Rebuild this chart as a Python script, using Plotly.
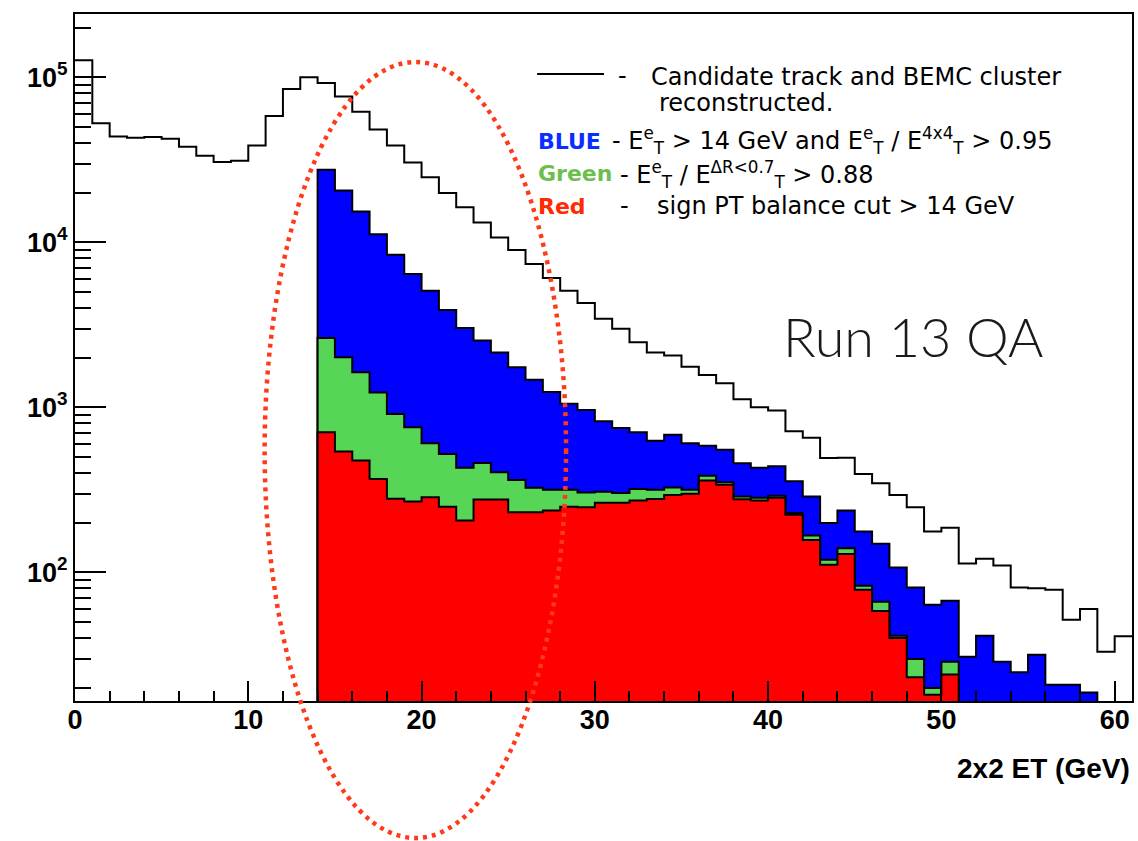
import math
import plotly.graph_objects as go

# ---------------- data (1 GeV bins) ----------------
all_start = 0
all_counts = [127000, 52600, 43800, 43100, 43500, 42400, 38000, 33500, 30700, 31200,
              38600, 58300, 85100, 100000, 92500, 76400, 61900, 48200, 38600, 30500,
              24800, 19900, 16300, 13200, 10700, 8990, 7390, 6080, 5090, 4290,
              3440, 2990, 2480, 2150, 2060, 1760, 1570, 1400, 1120, 1000,
              955, 716, 653, 493, 495, 395, 347, 294, 248, 177,
              186, 113, 121, 110, 81, 80, 78.5, 51.6, 60, 33, 41]

cut_start = 14
blue_counts = [27500, 20600, 15400, 11200, 8420, 6430, 5090, 3890, 3030, 2540,
               2150, 1750, 1470, 1240, 1050, 963, 823, 750, 705, 628,
               683, 605, 584, 554, 458, 430, 440, 356, 288, 199,
               237, 177, 149, 107, 81, 63.7, 67.3, 30.8, 41.3, 28.7,
               24.8, 31.6, 20.8, 20.8, 18.7]
green_counts = [2630, 2010, 1630, 1230, 912, 757, 605, 522, 430, 460,
                404, 363, 325, 317, 316, 305, 308, 303, 320, 316,
                327, 316, 385, 351, 288, 283, 291, 229, 167, 119,
                140, 83, 66.4, 41.3, 29.8, 19.9, 28.7]
red_counts = [705, 539, 476, 368, 279, 269, 285, 250, 206, 276,
              276, 231, 231, 237, 250, 248, 264, 264, 272, 278,
              294, 299, 360, 340, 277, 272, 283, 223, 157, 111,
              129, 78.3, 58.3, 40, 23.1, 18.1, 24]

x_range = [0, 61]
y_min, y_max = 16.6, 2.42e5
x_major = [0, 10, 20, 30, 40, 50, 60]
y_major = [100, 1000, 10000, 100000]
y_major_text = ["10<sup>2</sup>", "10<sup>3</sup>", "10<sup>4</sup>", "10<sup>5</sup>"]

FLOOR = 1.0  # below visible range, used to close filled histograms


def step_xy(start, counts, closed):
    xs = [start + i for i in range(len(counts))] + [start + len(counts)]
    ys = list(counts) + [counts[-1]]
    if closed:
        xs = [start] + xs + [xs[-1]]
        ys = [FLOOR] + ys + [FLOOR]
    return xs, ys


fig = go.Figure()
for counts, color in [(blue_counts, "#0000FF"), (green_counts, "#57D557"), (red_counts, "#FF0000")]:
    xs, ys = step_xy(cut_start, counts, True)
    fig.add_trace(go.Scatter(x=xs, y=ys, mode="lines", line=dict(shape="hv", color="black", width=2),
                             fill="toself", fillcolor=color, hoverinfo="skip", showlegend=False))

xs, ys = step_xy(all_start, all_counts, False)
fig.add_trace(go.Scatter(x=xs, y=ys, mode="lines", line=dict(shape="hv", color="black", width=2),
                         hoverinfo="skip", showlegend=False))

# ---------------- layout helpers ----------------
PL, PR, PT, PB = 75, 1134, 14, 701


def px(x):
    return (x - PL) / (PR - PL)


def py(y):
    return (PB - y) / (PB - PT)


tick_font = dict(family="Liberation Sans", size=27, color="black", weight="bold")
minor_y = [m * 10 ** e for e in range(1, 6) for m in range(2, 10)]

fig.update_layout(
    width=1138, height=841,
    margin=dict(l=PL, r=1138 - PR, t=PT, b=841 - PB),
    paper_bgcolor="white", plot_bgcolor="white",
    xaxis=dict(range=x_range, showgrid=False, zeroline=False, showline=True, linecolor="black",
               linewidth=2, mirror=True, ticks="inside", tickvals=x_major, ticklen=20, tickwidth=2,
               tickcolor="black", tickfont=tick_font, ticklabelstandoff=-6,
               minor=dict(ticks="inside", dtick=2, tick0=0, ticklen=10, tickwidth=2, tickcolor="black",
                          showgrid=False)),
    yaxis=dict(type="log", range=[math.log10(y_min), math.log10(y_max)], showgrid=False, zeroline=False,
               showline=True, linecolor="black", linewidth=2, mirror=True, ticks="inside",
               tickvals=y_major, ticktext=y_major_text, ticklen=31, tickwidth=2, tickcolor="black",
               tickfont=tick_font,
               minor=dict(ticks="inside", tickvals=minor_y, ticklen=16, tickwidth=2, tickcolor="black",
                          showgrid=False)),
)

# red dotted ellipse highlight
fig.add_shape(type="circle", xref="paper", yref="paper",
              x0=px(265), x1=px(567), y0=py(838), y1=py(62),
              line=dict(color="#FF3A1A", width=4.5, dash="4px,5px"), layer="above")

# legend line sample
fig.add_shape(type="line", xref="paper", yref="paper", x0=px(538), x1=px(605), y0=py(74), y1=py(74),
              line=dict(color="black", width=2))

leg_font = dict(family="DejaVu Sans", size=24, color="black")
leg_font_big = dict(family="DejaVu Sans", size=24, color="black")


def ann(text, x, y, anchor="left", font=None, pad=1):
    fig.add_annotation(text=text, x=px(x), y=py(y), xref="paper", yref="paper", xanchor=anchor,
                       yanchor="middle", showarrow=False, font=font or leg_font, borderpad=pad)


ann("-", 624, 76, "center")
ann("Candidate track and BEMC cluster", 650, 77)
ann("reconstructed.", 658, 103)
ann("BLUE", 537, 141, font=dict(family="DejaVu Sans", size=22, color="#0A2EFF", weight="bold"))
ann("- E<sup>e</sup><sub>T</sub> &gt; 14 GeV and E<sup>e</sup><sub>T</sub> / E<sup>4x4</sup><sub>T</sub> &gt; 0.95",
    612, 140, font=leg_font_big, pad=0)
ann("Green", 537, 173, font=dict(family="DejaVu Sans", size=22, color="#6CBF4F", weight="bold"))
ann("- E<sup>e</sup><sub>T</sub> / E<sup>\u0394R&lt;0.7</sup><sub>T</sub> &gt; 0.88", 620, 174,
    font=leg_font_big, pad=0)
ann("Red", 537, 206, font=dict(family="DejaVu Sans", size=22, color="#FF2A00", weight="bold"))
ann("-", 626, 206, "center")
ann("sign PT balance cut &gt; 14 GeV", 656, 206)

ann("Run 13 QA", 915, 337, "center", font=dict(family="Lato", size=54, color="#1a1a1a", weight=300))
ann("2x2 ET (GeV)", 1134, 768, "right", font=dict(family="Liberation Sans", size=28, color="black", weight="bold"))

fig.write_html("out.html")
